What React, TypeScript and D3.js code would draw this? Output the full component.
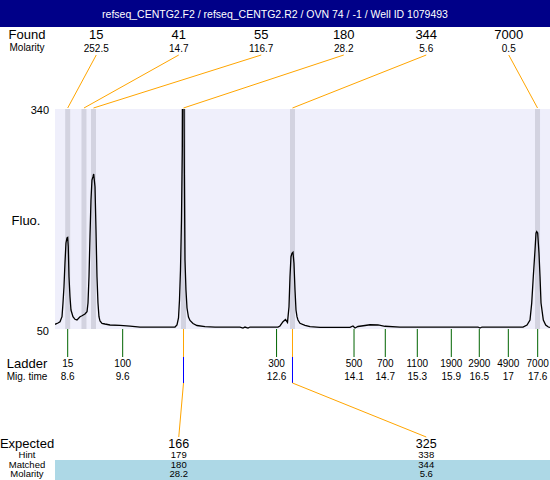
import React from "react";
import * as d3 from "d3";

// ---------- data ----------
const title = "refseq_CENTG2.F2 / refseq_CENTG2.R2 / OVN 74 / -1 / Well ID 1079493";

const foundSizes = ["15", "41", "55", "180", "344", "7000"];
const foundMolarity = ["252.5", "14.7", "116.7", "28.2", "5.6", "0.5"];
const foundTimes = [8.6, 8.912, 9.094, 10.818, 12.905, 17.597];

const ladderSizes = ["15", "100", "300", "500", "700", "1100", "1900", "2900", "4900", "7000"];
const ladderTimes = [8.6, 9.653, 12.6, 14.083, 14.682, 15.295, 15.946, 16.482, 17.038, 17.6];
const ladderTimeLabels = ["8.6", "9.6", "12.6", "14.1", "14.7", "15.3", "15.9", "16.5", "17", "17.6"];

const expectedSizes = ["166", "325"];
const hintSizes = ["179", "338"];
const matchedSizes = ["180", "344"];
const matchedMolarity = ["28.2", "5.6"];
const matchedTimes = [10.818, 12.905];
const expectedSlots = [1, 4];

const yTicks = [50, 340];

const traceTime = [
  8.357, 8.414, 8.453, 8.491, 8.51, 8.529, 8.548, 8.567, 8.587, 8.6, 8.611, 8.625, 8.644, 8.663,
  8.701, 8.74, 8.778, 8.836, 8.874, 8.931, 8.97, 8.989, 9.008, 9.027, 9.046, 9.065, 9.085, 9.098,
  9.123, 9.142, 9.161, 9.18, 9.199, 9.219, 9.257, 9.314, 9.41, 9.602, 9.793, 9.985, 10.655,
  10.693, 10.722, 10.741, 10.76, 10.779, 10.795, 10.808, 10.823, 10.833, 10.846, 10.865, 10.885,
  10.913, 10.942, 11.0, 11.076, 11.229, 11.421, 11.9, 11.957, 11.995, 12.053, 12.091, 12.627,
  12.665, 12.723, 12.771, 12.809, 12.838, 12.857, 12.876, 12.895, 12.914, 12.933, 12.953, 12.972,
  12.991, 13.01, 13.048, 13.144, 13.24, 13.432, 14.006, 14.063, 14.102, 14.159, 14.293, 14.389,
  14.542, 14.676, 14.963, 15.921, 16.457, 16.495, 16.534, 17.319, 17.396, 17.453, 17.486, 17.516,
  17.549, 17.568, 17.581, 17.6, 17.625, 17.645, 17.664, 17.708, 17.754, 17.804, 17.836,
];
const traceFluo = [
  56.2, 57.9, 59.6, 66.2, 84.3, 105.8, 137.0, 163.4, 170.0, 170.6, 158.5, 118.9, 92.6, 75.0,
  66.2, 62.8, 61.9, 66.2, 67.5, 69.8, 72.8, 84.3, 118.9, 171.7, 220.0, 246.3, 250.8, 254.3,
  237.6, 181.2, 118.9, 84.3, 66.2, 60.5, 57.5, 56.6, 55.3, 54.9, 53.9, 52.6, 52.6,
  55.3, 64.5, 88.2, 127.8, 193.7, 286.0, 500, 450, 268.8, 141.0, 101.4, 77.7,
  65.8, 61.2, 57.2, 54.6, 53.0, 52.6, 52.6, 51.3, 52.6, 51.3, 52.6, 52.6,
  54.0, 59.6, 62.5, 58.8, 79.4, 118.9, 145.3, 149.8, 151.1, 136.6, 101.4, 75.0,
  66.2, 61.9, 57.5, 54.9, 53.0, 52.2, 52.2, 54.0, 51.3, 53.3, 54.6, 55.6,
  55.3, 53.6, 52.6, 52.6, 52.6, 51.3, 52.6, 52.6, 55.3, 61.9, 84.3, 118.9,
  154.1, 176.2, 178.3, 176.5, 150.2, 118.9, 84.3, 61.9, 55.3, 52.6, 52.0,
];

// ---------- layout ----------
const W = 550;
const H = 480;
const PL = 55;
const PR = 550;
const PT = 109;
const PB = 329;
const FONT = "'Liberation Sans', Arial, Helvetica, sans-serif";
const LABEL_X = 27;

export default function App() {
  const x = d3.scaleLinear().domain([8.357, 17.836]).range([PL, PR]);
  const y = d3.scaleLinear().domain([50, 340]).range([PB, PT]);
  const slots = d3.scaleBand<number>().domain(d3.range(6)).range([PL, PR]);
  const slotC = (i: number) => (slots(i) as number) + slots.bandwidth() / 2;

  const pts = traceTime.map((t, i) => [t, traceFluo[i]] as [number, number]);
  const line = d3
    .line<[number, number]>()
    .x((d) => x(d[0]))
    .y((d) => y(d[1]));

  const bandW = 5;

  return (
    <svg
      width={W}
      height={H}
      style={{ position: "absolute", left: 0, top: 0, background: "#fff" }}
      fontFamily={FONT}
    >
      <defs>
        <clipPath id="plotclip">
          <rect x={PL} y={PT} width={PR - PL} height={PB - PT} />
        </clipPath>
      </defs>
      {/* title bar */}
      <rect x={0} y={0} width={W} height={27} fill="#000088" />
      <text x={W / 2} y={17.5} fill="#fff" fontSize={10.5} textAnchor="middle">
        {title}
      </text>

      {/* found rows */}
      <text x={LABEL_X} y={39} fontSize={13} textAnchor="middle">Found</text>
      <text x={LABEL_X} y={51} fontSize={10} textAnchor="middle">Molarity</text>
      {foundSizes.map((s, i) => (
        <g key={"f" + i}>
          <text x={slotC(i)} y={39} fontSize={13} textAnchor="middle">{s}</text>
          <text x={slotC(i)} y={52} fontSize={10} textAnchor="middle">{foundMolarity[i]}</text>
          <line x1={slotC(i)} y1={55} x2={x(foundTimes[i])} y2={108} stroke="#FFA500" strokeWidth={1} />
        </g>
      ))}

      {/* plot */}
      <rect x={PL} y={PT} width={PR - PL} height={PB - PT} fill="#EFEFFB" />
      {foundTimes.map((t, i) => (
        <rect key={"b" + i} x={x(t) - bandW / 2} y={PT} width={bandW} height={PB - PT} fill="#D3D3E0" />
      ))}
      <path d={line(pts) || ""} fill="none" stroke="#000" strokeWidth={1.3} clipPath="url(#plotclip)" />
      {yTicks.map((v) => (
        <text key={"y" + v} x={49} y={y(v) + (v === 50 ? 6 : 5)} fontSize={11} textAnchor="end">
          {v}
        </text>
      ))}
      <text x={26} y={225} fontSize={13} textAnchor="middle">Fluo.</text>

      {/* ladder */}
      <text x={LABEL_X} y={368} fontSize={13} textAnchor="middle">Ladder</text>
      <text x={LABEL_X} y={380} fontSize={10} textAnchor="middle">Mig. time</text>
      {ladderTimes.map((t, i) => (
        <g key={"l" + i}>
          <line x1={x(t)} y1={PB} x2={x(t)} y2={357} stroke="#006400" strokeWidth={1} />
          <text x={x(t)} y={367} fontSize={10} textAnchor="middle">{ladderSizes[i]}</text>
          <text x={x(t)} y={380} fontSize={10} textAnchor="middle">{ladderTimeLabels[i]}</text>
        </g>
      ))}

      {/* expected / matched connectors */}
      {matchedTimes.map((t, i) => {
        const px = x(t);
        const lx = slotC(expectedSlots[i]);
        return (
          <g key={"m" + i}>
            <line x1={px} y1={PB} x2={px} y2={357} stroke="#FFA500" strokeWidth={1} />
            <line x1={px} y1={357} x2={px} y2={383} stroke="#0000FF" strokeWidth={1} />
            <line x1={px} y1={383} x2={lx} y2={437} stroke="#FFA500" strokeWidth={1} />
          </g>
        );
      })}

      {/* bottom table */}
      <rect x={PL} y={460} width={PR - PL} height={20} fill="#ADD8E6" />
      <text x={LABEL_X} y={448} fontSize={13} textAnchor="middle">Expected</text>
      <text x={LABEL_X} y={458} fontSize={9.5} textAnchor="middle">Hint</text>
      <text x={LABEL_X} y={468} fontSize={9.5} textAnchor="middle">Matched</text>
      <text x={LABEL_X} y={477} fontSize={9.5} textAnchor="middle">Molarity</text>
      {expectedSizes.map((s, i) => {
        const lx = slotC(expectedSlots[i]);
        return (
          <g key={"e" + i}>
            <text x={lx} y={448} fontSize={12.5} textAnchor="middle">{s}</text>
            <text x={lx} y={458} fontSize={9.5} textAnchor="middle">{hintSizes[i]}</text>
            <text x={lx} y={468} fontSize={9.5} textAnchor="middle">{matchedSizes[i]}</text>
            <text x={lx} y={477} fontSize={9.5} textAnchor="middle">{matchedMolarity[i]}</text>
          </g>
        );
      })}
    </svg>
  );
}
